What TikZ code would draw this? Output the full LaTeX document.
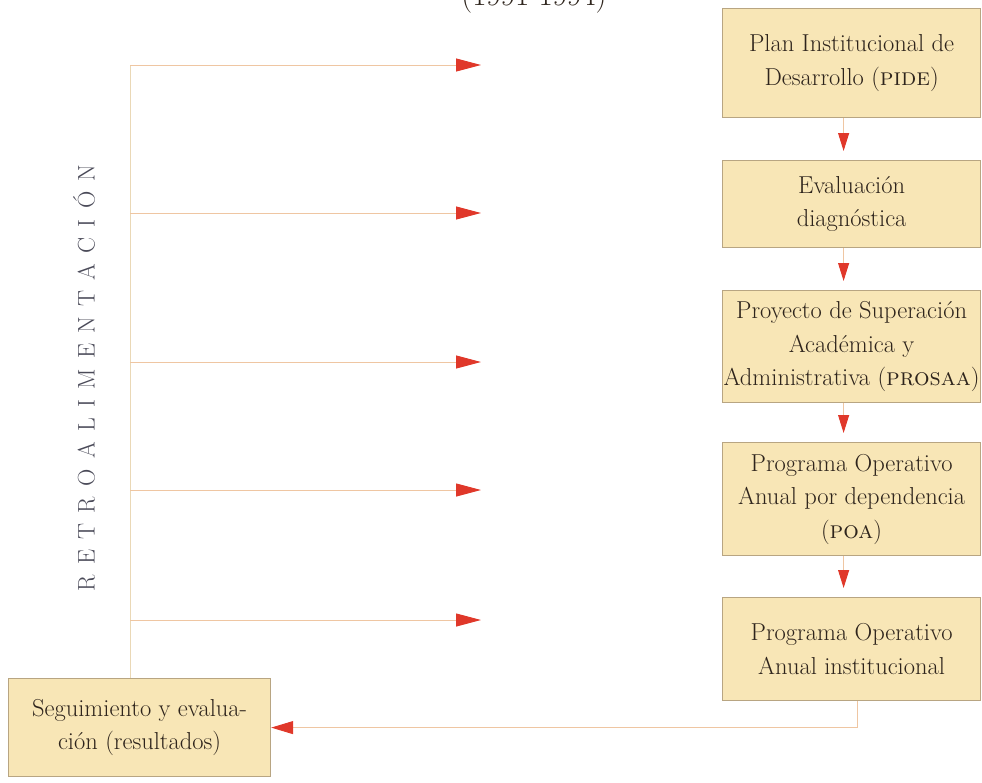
\documentclass[tikz,border=0pt]{standalone}
\usepackage{fontspec}
\usetikzlibrary{arrows.meta}
\definecolor{boxfill}{HTML}{F8E6B6}
\definecolor{boxline}{HTML}{B8A582}
\definecolor{linec}{HTML}{EFC6A2}
\definecolor{vlinec}{HTML}{EAD8B6}
\definecolor{arrowred}{HTML}{E0382A}
\definecolor{txt}{HTML}{2E241C}
\definecolor{retroc}{HTML}{4A4A58}
\newcommand{\lsp}{\kern10.3pt}
\begin{document}
\begin{tikzpicture}[x=1pt,y=-1pt,
  box/.style={draw=boxline, fill=boxfill, line width=1.2pt, inner sep=0pt,
    anchor=north west, align=center, text=txt,
    font=\fontsize{24.5}{33.5}\selectfont},
  conn/.style={draw=linec, line width=1pt},
  htip/.style={-{Triangle[length=25pt,width=13pt,color=arrowred]}},
  vtip/.style={-{Triangle[length=18pt,width=11pt,color=arrowred]}, shorten >=9pt},
  btip/.style={-{Triangle[length=22pt,width=13pt,color=arrowred]}}]
\useasboundingbox (0,0) rectangle (982,782);

% title (cut at the top)
\node[anchor=base, text=txt, font=\fontsize{31}{34}\selectfont] (title) at (534,5) {(1991-1994)};

% right column
\node[box, minimum width=258pt, minimum height=109pt] (pide) at (722,8)
  {Plan Institucional de\\Desarrollo (\textsc{pide})};
\node[box, minimum width=258pt, minimum height=87pt] (eval) at (722,160)
  {Evaluación\\diagnóstica};
\node[box, minimum width=258pt, minimum height=112pt] (pros) at (722,290)
  {Proyecto de Superación\\Académica y\\Administrativa (\textsc{prosaa})};
\node[box, minimum width=258pt, minimum height=113pt] (poa) at (722,442)
  {Programa Operativo\\Anual por dependencia\\(\textsc{poa})};
\node[box, minimum width=258pt, minimum height=103pt] (inst) at (722,597)
  {Programa Operativo\\Anual institucional};

% left box
\node[box, minimum width=262pt, minimum height=98pt] (seg) at (8,678)
  {Seguimiento y evalua-\\ción (resultados)};

% vertical text
\node[rotate=90, text=retroc, font=\fontsize{24}{28}\selectfont] (retro) at (84,378)
  {R\lsp E\lsp T\lsp R\lsp O\lsp A\lsp L\lsp I\lsp M\lsp E\lsp N\lsp T\lsp A\lsp C\lsp I\lsp Ó\lsp N};

% arrows between boxes
\draw[conn, vtip] ([xshift=-8pt]pide.south) -- ([xshift=-8pt]eval.north);
\draw[conn, vtip] ([xshift=-8pt]eval.south) -- ([xshift=-8pt]pros.north);
\draw[conn, vtip] ([xshift=-8pt]pros.south) -- ([xshift=-8pt]poa.north);
\draw[conn, vtip] ([xshift=-8pt]poa.south) -- ([xshift=-8pt]inst.north);

% feedback to evaluation box
\draw[conn, btip] ([xshift=6pt]inst.south) |- (seg.east);

% retroalimentacion lines
\coordinate (v1) at (130,65);  \coordinate (e1) at (481,65);
\coordinate (v2) at (130,213); \coordinate (e2) at (481,213);
\coordinate (v3) at (130,362); \coordinate (e3) at (481,362);
\coordinate (v4) at (130,490); \coordinate (e4) at (481,490);
\coordinate (v5) at (130,620); \coordinate (e5) at (481,620);
\draw[draw=vlinec, line width=1pt] (v1) -- (v1 |- seg.north);
\foreach \i in {1,...,5}{
  \draw[conn, htip] (v\i) -- (e\i);
}
\end{tikzpicture}
\end{document}
